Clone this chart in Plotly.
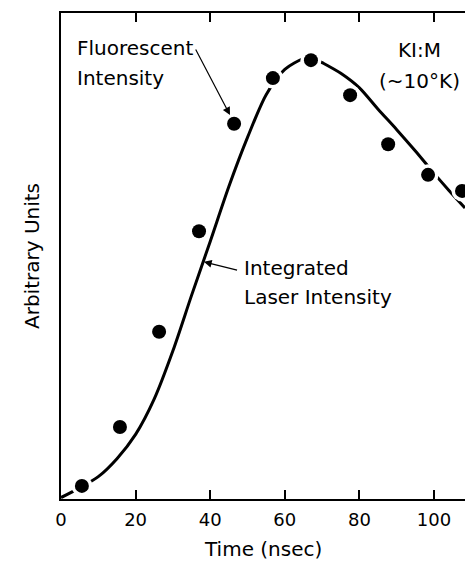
import plotly.graph_objects as go

# Data
time_pts = [5.6, 15.8, 26.3, 37.0, 46.4, 56.8, 67.0, 77.5, 87.7, 98.4, 107.5]
fluor = [2.7, 14.8, 34.4, 55.1, 77.2, 86.6, 90.3, 83.1, 73.0, 66.7, 63.4]

curve_t = [0, 5, 10, 15, 20, 25, 30, 35, 40, 45, 50, 55, 60, 65, 67.5,
           70, 75, 80, 85, 90, 95, 100, 104, 108.3]
curve_v = [0.3, 2.3, 4.6, 8.3, 13.3, 20.6, 30.5, 41.9, 53.0, 64.3, 74.4, 83.2, 88.4, 90.6, 90.8,
           89.8, 87.6, 84.6, 80.2, 76.0, 71.6, 67.0, 63.5, 59.9]

x_ticks = [0, 20, 40, 60, 80, 100]
x_ticklabels = ["0", "20", "40", "60", "80", "100"]

FONT = "DejaVu Sans"

fig = go.Figure()
fig.add_trace(go.Scatter(x=curve_t, y=curve_v, mode="lines",
                         line=dict(color="black", width=3, shape="spline", smoothing=0.8),
                         hoverinfo="skip", showlegend=False))
# white halo around dots (gaps in the curve)
fig.add_trace(go.Scatter(x=time_pts, y=fluor, mode="markers",
                         marker=dict(color="white", size=21, line=dict(width=0)),
                         hoverinfo="skip", showlegend=False))
fig.add_trace(go.Scatter(x=time_pts, y=fluor, mode="markers",
                         marker=dict(color="black", size=14, line=dict(width=0)),
                         showlegend=False))

ann = []
def txt(x, y, s, xanchor="left", size=20):
    ann.append(dict(x=x, y=y, xref="x", yref="y", text=s, showarrow=False,
                    xanchor=xanchor, yanchor="middle",
                    font=dict(family=FONT, size=size, color="black")))

txt(3.75, 92.7, "Fluorescent")
txt(3.75, 86.6, "Intensity")
txt(96.2, 92.4, "KI:M", xanchor="center")
txt(96.2, 86.0, "(~10°K)", xanchor="center")
txt(48.5, 47.5, "Integrated")
txt(48.5, 41.6, "Laser Intensity")

ann.append(dict(x=45.3, y=79.0, ax=35.9, ay=92.8, xref="x", yref="y",
                axref="x", ayref="y", text="", showarrow=True,
                arrowhead=2, arrowsize=1.3, arrowwidth=1.2, arrowcolor="black"))
ann.append(dict(x=38.3, y=48.8, ax=47.6, ay=47.0, xref="x", yref="y",
                axref="x", ayref="y", text="", showarrow=True,
                arrowhead=2, arrowsize=1.3, arrowwidth=1.2, arrowcolor="black"))

ann.append(dict(x=-0.0718, y=0.5, xref="paper", yref="paper", text="Arbitrary Units",
                showarrow=False, textangle=-90, xanchor="center", yanchor="middle",
                font=dict(family=FONT, size=20, color="black")))
ann.append(dict(x=0.5, y=-0.103, xref="paper", yref="paper", text="Time (nsec)",
                showarrow=False, xanchor="center", yanchor="middle",
                font=dict(family=FONT, size=20, color="black")))

fig.update_layout(
    width=465, height=561, autosize=False,
    margin=dict(l=61, r=0, t=13, b=62, pad=0),
    paper_bgcolor="white", plot_bgcolor="white",
    annotations=ann, showlegend=False,
    font=dict(family=FONT, color="black"),
)
fig.update_xaxes(range=[0, 108.3], tickvals=x_ticks, ticktext=x_ticklabels,
                 ticks="inside", ticklen=9, tickwidth=1.5, tickcolor="black",
                 showline=True, linewidth=1.5, linecolor="black", mirror="ticks",
                 showgrid=False, zeroline=False, automargin=False,
                 tickfont=dict(family=FONT, size=18, color="black"),
                 ticklabelstandoff=4)
fig.update_yaxes(range=[0, 100], showticklabels=False, ticks="",
                 showline=True, linewidth=1.5, linecolor="black",
                 showgrid=False, zeroline=False, automargin=False)

fig.write_html("out.html")
